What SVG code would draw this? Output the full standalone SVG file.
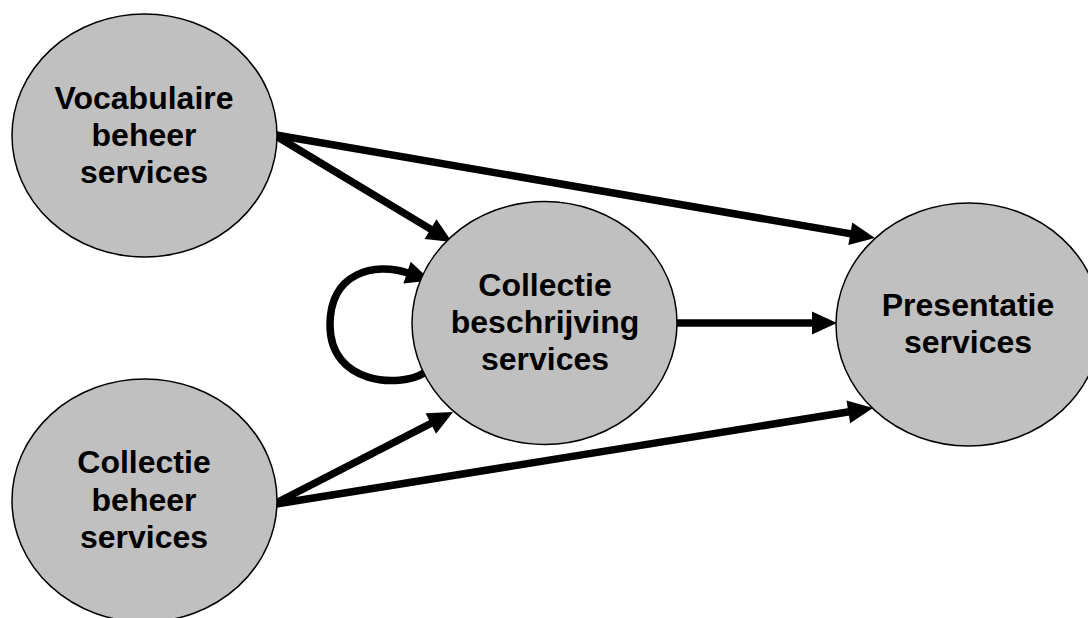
<svg xmlns="http://www.w3.org/2000/svg" width="1088" height="618" viewBox="0 0 1088 618">
<style>
.node{fill:#c0c0c0;stroke:#000;stroke-width:1.5}
.lbl{font-family:"Liberation Sans",Arial,sans-serif;font-weight:bold;font-size:32px;fill:#000;text-anchor:middle}
.edge{fill:none;stroke:#000;stroke-width:7.5;marker-end:url(#ah)}
</style>
<defs>
<marker id="ah" markerUnits="userSpaceOnUse" viewBox="0 -12 25 24" markerWidth="25" markerHeight="24" refX="1" refY="0" orient="auto" overflow="visible">
<path d="M0,-11.5 L25,0 L0,11.5 z" fill="#000"/>
</marker>
</defs>
<rect width="1088" height="618" fill="#fff"/>
<g id="connectors">
<line class="edge" x1="276" y1="135" x2="851.3" y2="233.9"/>
<line class="edge" x1="276" y1="136" x2="431.4" y2="229.6"/>
<line class="edge" x1="276" y1="503" x2="431.7" y2="423"/>
<line class="edge" x1="276" y1="504" x2="849.3" y2="411.8"/>
<line class="edge" x1="677" y1="323" x2="813" y2="323"/>
<path class="edge" d="M424,373 C400,388 330,385 330,325 C330,272 375,262 408,273"/>
</g>
<g id="vocabulaire">
<ellipse class="node" cx="144.5" cy="135.5" rx="132.5" ry="121.5"/>
<text class="lbl" x="144" y="108.5">Vocabulaire</text>
<text class="lbl" x="144" y="145.5">beheer</text>
<text class="lbl" x="144" y="182.5">services</text>
</g>
<g id="collectie-beheer">
<ellipse class="node" cx="144.5" cy="500.5" rx="132.5" ry="121.5"/>
<text class="lbl" x="144" y="473">Collectie</text>
<text class="lbl" x="144" y="511">beheer</text>
<text class="lbl" x="144" y="548">services</text>
</g>
<g id="collectie-beschrijving">
<ellipse class="node" cx="544.5" cy="323" rx="132.5" ry="121.5"/>
<text class="lbl" x="545" y="296">Collectie</text>
<text class="lbl" x="545" y="333">beschrijving</text>
<text class="lbl" x="545" y="370">services</text>
</g>
<g id="presentatie">
<ellipse class="node" cx="968.5" cy="324.5" rx="132.5" ry="121.5"/>
<text class="lbl" x="968" y="316">Presentatie</text>
<text class="lbl" x="968" y="353">services</text>
</g>
</svg>
